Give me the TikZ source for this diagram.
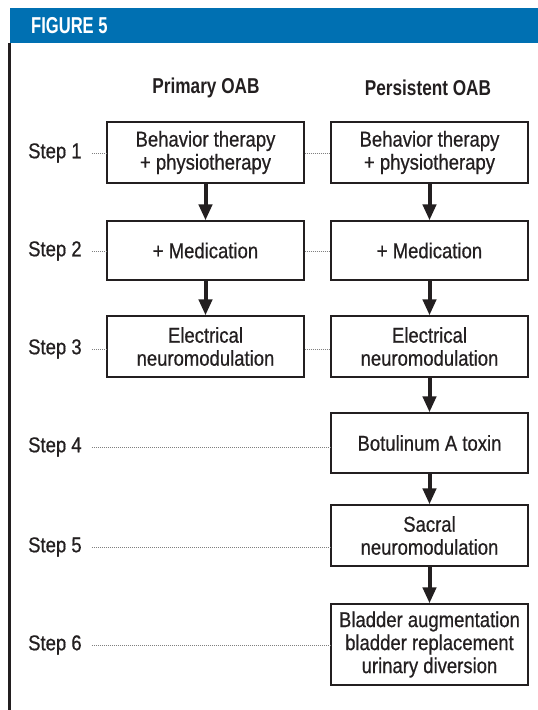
\documentclass[tikz,border=0pt]{standalone}
\usepackage{fontspec}
\setmainfont{Liberation Sans}[FakeStretch=0.86, FakeBold=0.6]
\newfontfamily\hdfont{Liberation Sans}[FakeStretch=0.72]
\newfontfamily\colfont{Liberation Sans}[FakeStretch=0.8]
\usetikzlibrary{arrows.meta}
\definecolor{figblue}{RGB}{0,112,178}
\definecolor{ink}{RGB}{35,31,32}
\begin{document}
\begin{tikzpicture}[x=1pt,y=-1pt,
  box/.style={draw=ink, line width=1.2pt, minimum width=197pt, inner sep=0pt,
    align=center, text=ink, font=\fontsize{21.5}{23}\selectfont},
  lbl/.style={anchor=west, inner sep=0pt, text=ink, font=\fontsize{21.5}{23}\selectfont},
  hdr/.style={inner sep=0pt, text=ink, font=\colfont\bfseries\fontsize{21.5}{23}\selectfont},
  dots/.style={draw=black!50, line width=0.7pt, dash pattern=on 0.8pt off 1.2pt},
  flow/.style={draw=ink, line width=4pt, -{Triangle[width=13pt,length=16pt]}}]
\useasboundingbox (0,0) rectangle (538,710);
\fill[white] (0,0) rectangle (538,710);
% header bar
\fill[figblue] (10,8) rectangle (538,43);
\node[anchor=west, inner sep=0pt, text=white, font=\hdfont\bfseries\fontsize{23}{23}\selectfont] (fig) at (31,25.5) {FIGURE 5};
\fill[ink] (8,43) rectangle (11,710);
% column headers
\node[hdr] (h1) at (206,88) {Primary OAB};
\node[hdr] (h2) at (428,88) {Persistent OAB};
% boxes left
\node[box, minimum height=61pt] (b1) at (205.5,152.5) {Behavior therapy\\+ physiotherapy};
\node[box, minimum height=59pt] (b2) at (205.5,250.5) {+ Medication};
\node[box, minimum height=61pt] (b3) at (205.5,346.5) {Electrical\\neuromodulation};
% boxes right
\node[box, minimum height=61pt] (c1) at (429.5,152.5) {Behavior therapy\\+ physiotherapy};
\node[box, minimum height=59pt] (c2) at (429.5,250.5) {+ Medication};
\node[box, minimum height=61pt] (c3) at (429.5,346.5) {Electrical\\neuromodulation};
\node[box, minimum height=60pt] (c4) at (429.5,443) {Botulinum A toxin};
\node[box, minimum height=61pt] (c5) at (429.5,535.5) {Sacral\\neuromodulation};
\node[box, minimum height=81pt] (c6) at (429.5,644.5) {Bladder augmentation\\bladder replacement\\urinary diversion};
% step labels
\node[lbl] (s1) at (28,153) {Step 1};
\node[lbl] (s2) at (28,251) {Step 2};
\node[lbl] (s3) at (28,349) {Step 3};
\node[lbl] (s4) at (28,447) {Step 4};
\node[lbl] (s5) at (28,547) {Step 5};
\node[lbl] (s6) at (28,645) {Step 6};
% dotted leaders
\draw[dots] ([xshift=10pt]s1.east) -- (s1.east -| b1.west);
\draw[dots] ([xshift=10pt]s2.east) -- (s2.east -| b2.west);
\draw[dots] ([xshift=10pt]s3.east) -- (s3.east -| b3.west);
\draw[dots] (s1.east -| b1.east) -- (s1.east -| c1.west);
\draw[dots] (s2.east -| b2.east) -- (s2.east -| c2.west);
\draw[dots] (s3.east -| b3.east) -- (s3.east -| c3.west);
\draw[dots] ([xshift=10pt]s4.east) -- (s4.east -| c4.west);
\draw[dots] ([xshift=10pt]s5.east) -- (s5.east -| c5.west);
\draw[dots] ([xshift=10pt]s6.east) -- (s6.east -| c6.west);
% arrows
\draw[flow] (b1.south) -- (b2.north);
\draw[flow] (b2.south) -- (b3.north);
\draw[flow] (c1.south) -- (c2.north);
\draw[flow] (c2.south) -- (c3.north);
\draw[flow] (c3.south) -- (c4.north);
\draw[flow] (c4.south) -- (c5.north);
\draw[flow] (c5.south) -- (c6.north);
\end{tikzpicture}
\end{document}
